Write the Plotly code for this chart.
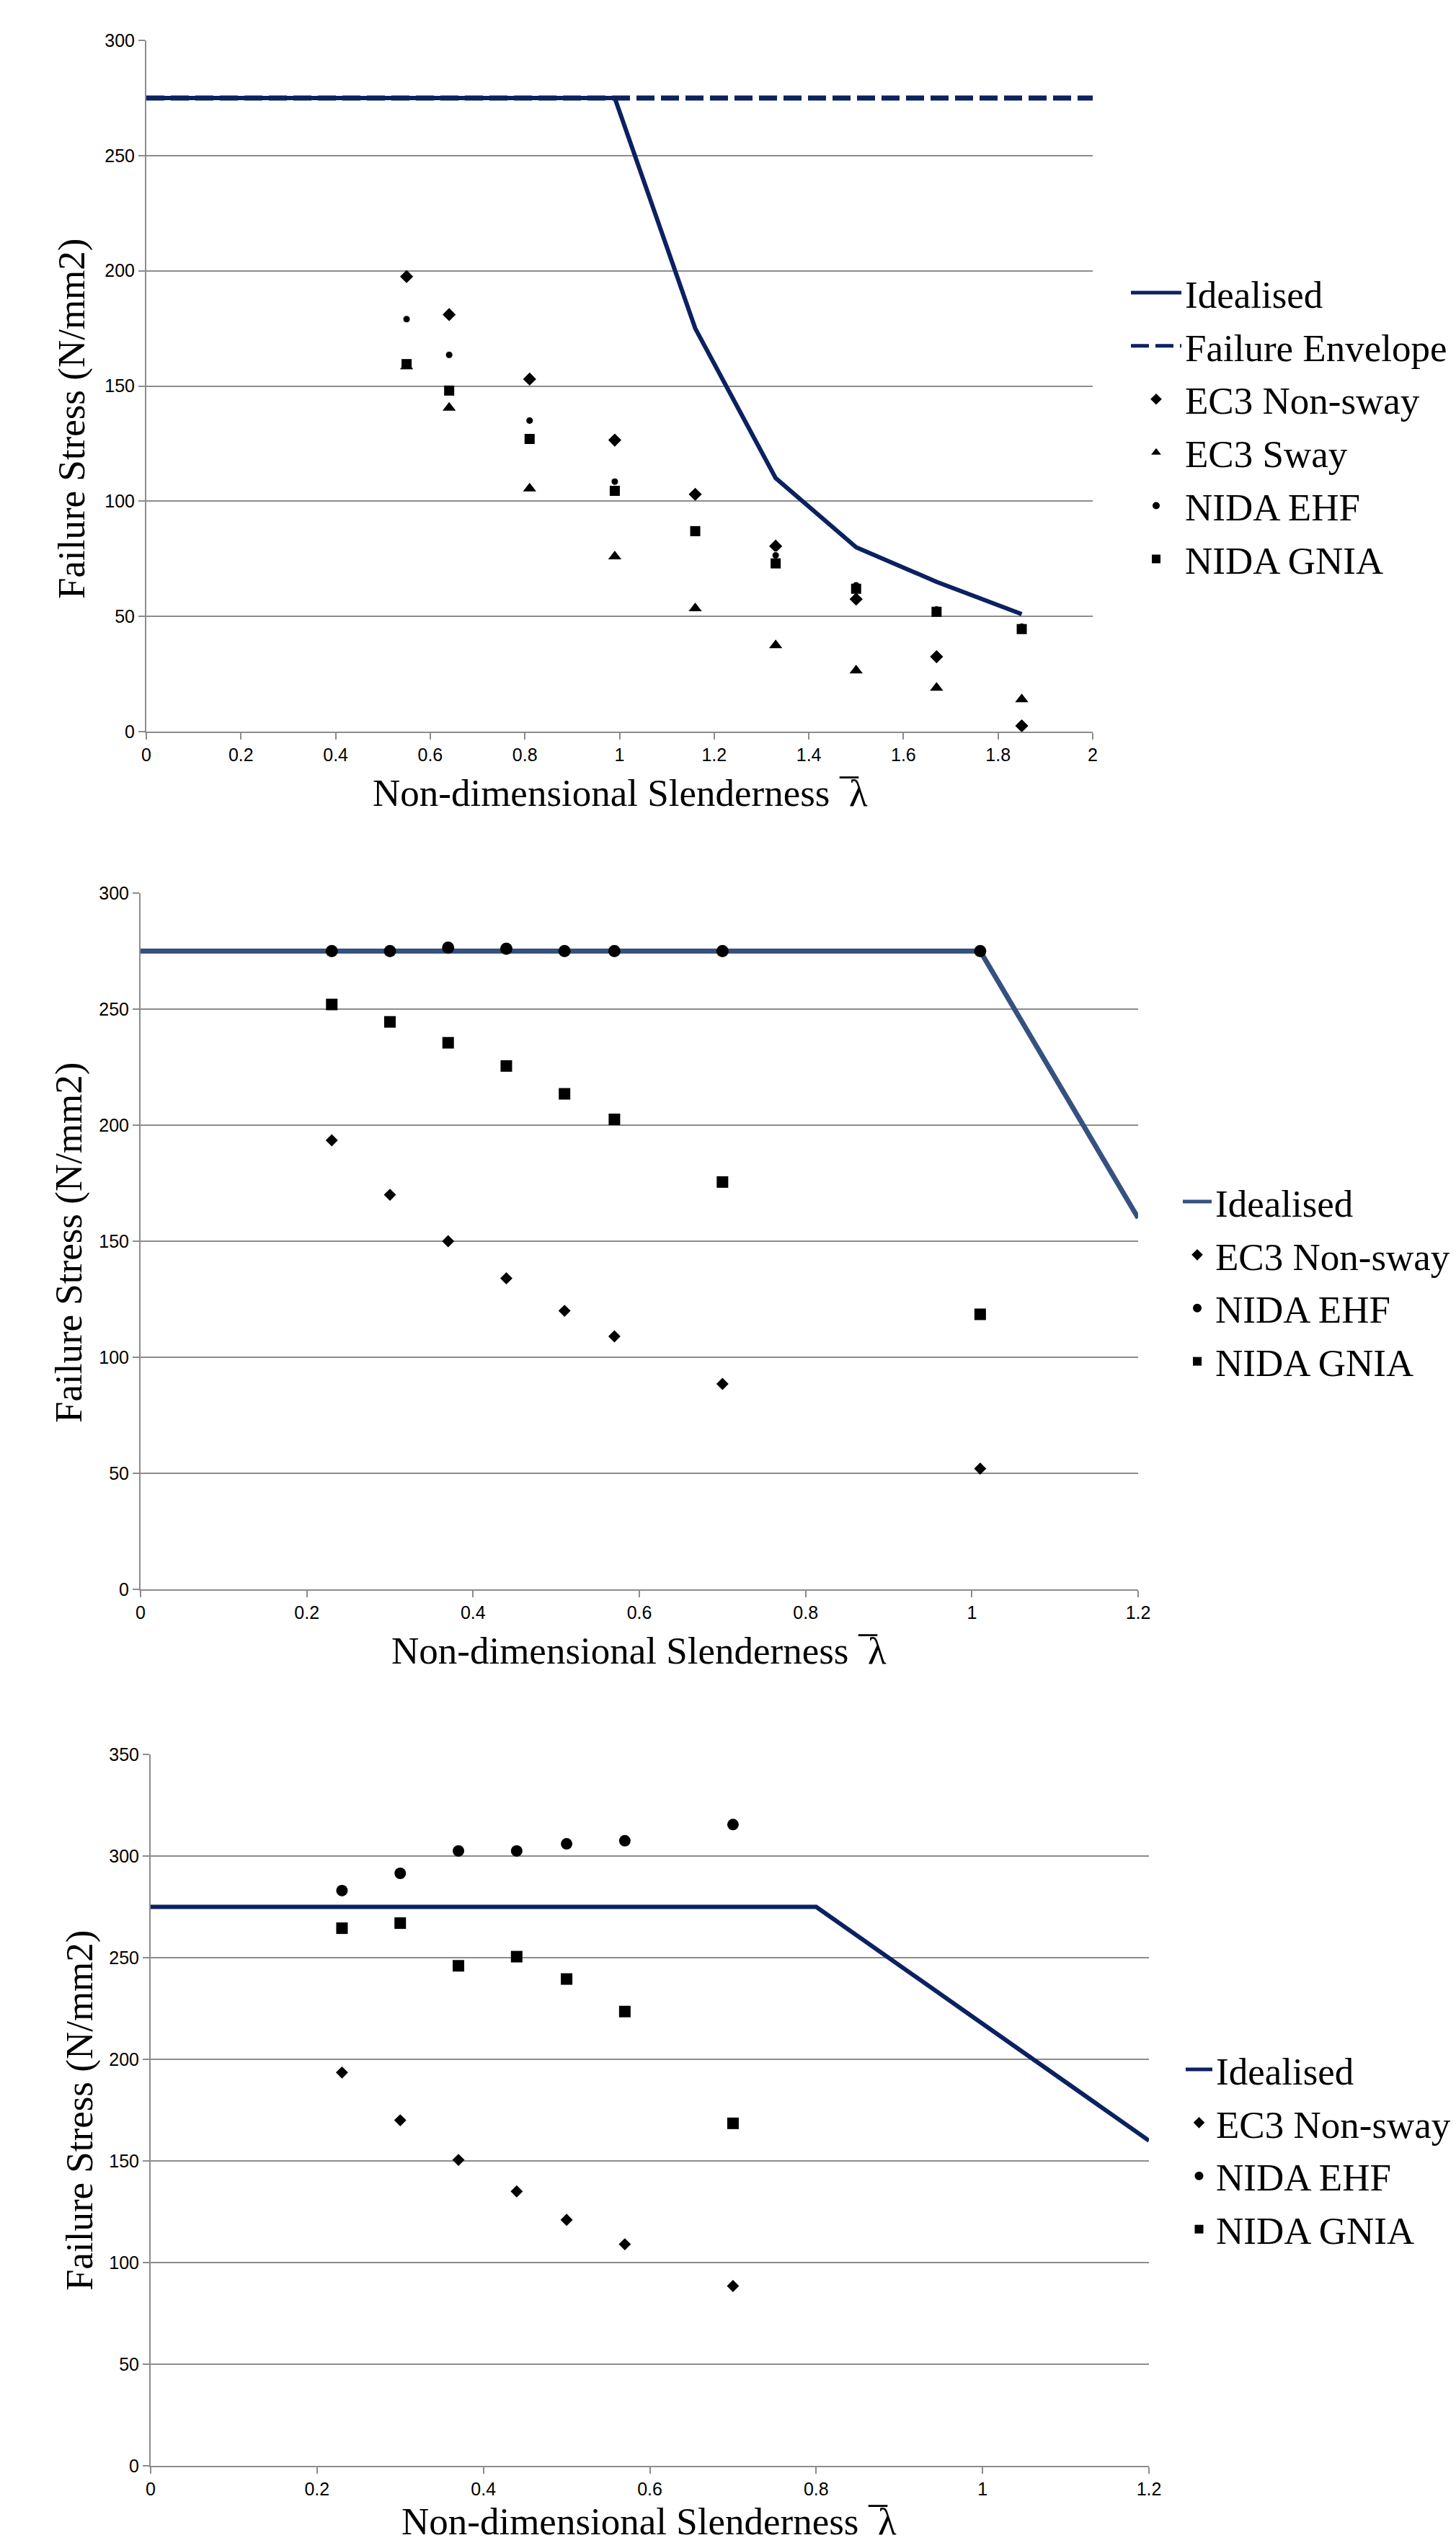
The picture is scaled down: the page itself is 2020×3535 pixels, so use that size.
import plotly.graph_objects as go

# Page is 2020x3535; body has an 8px default margin, so the figure is 16px smaller
PAGE_W, PAGE_H = 2020, 3535
OFF = 8
W, H = PAGE_W - 2 * OFF, PAGE_H - 2 * OFF

# ---------------- Chart 1 data ----------------
c1_x = [0.55, 0.64, 0.81, 0.99, 1.16, 1.33, 1.50, 1.67, 1.85]
c1_ec3_nonsway = [197.5, 181, 153, 126.5, 103, 80.5, 57.5, 32.5, 2.5]
c1_ec3_sway = [158.5, 140.5, 105.5, 76, 53.5, 37.5, 26.5, 19, 14]
c1_nida_ehf = [179, 163.5, 135, 108.5, 87.5, 76.5, 63.5, 53, 45.5]
c1_nida_gnia = [159.5, 148, 127, 104.5, 87, 73, 62, 52, 44.5]
c1_ideal_x = [0, 0.99, 1.16, 1.33, 1.50, 1.67, 1.85]
c1_ideal_y = [275, 275, 175, 110, 80, 65, 51]
c1_env_x = [0, 2]
c1_env_y = [275, 275]

# ---------------- Chart 2 data ----------------
c2_x = [0.23, 0.30, 0.37, 0.44, 0.51, 0.57, 0.70, 1.01]
c2_ec3_nonsway = [193.5, 170, 150, 134, 120, 109, 88.5, 52]
c2_nida_ehf = [275, 275, 276.5, 276, 275, 275, 275, 275]
c2_nida_gnia = [252, 244.5, 235.5, 225.5, 213.5, 202.5, 175.5, 118.5]
c2_ideal_x = [0, 1.01, 1.2]
c2_ideal_y = [275, 275, 160]

# ---------------- Chart 3 data ----------------
c3_x = [0.23, 0.30, 0.37, 0.44, 0.50, 0.57, 0.70]
c3_ec3_nonsway = [193.5, 170, 150.5, 135, 121, 109, 88.5]
c3_nida_ehf = [283, 291.5, 302.5, 302.5, 306, 307.5, 315.5]
c3_nida_gnia = [264.5, 267, 246, 250.5, 239.5, 223.5, 168.5]
c3_ideal_x = [0, 0.8, 1.2]
c3_ideal_y = [275, 275, 160]

x_title = "Non-dimensional Slenderness \u00a0\u0305\u03bb"
y_title = "Failure Stress (N/mm2)"

NAVY = "#0b2160"
STEEL = "#35517f"
GRID = "#8c8c8c"
SERIF = "Liberation Serif, Times New Roman, serif"
SANS = "Liberation Sans, Arial, sans-serif"


def px_x(p):
    return (p - OFF) / W


def px_y(p):
    return 1 - (p - OFF) / H


fig = go.Figure()


def add(x, y, name, leg, grp, xa, ya, **kw):
    fig.add_trace(go.Scatter(x=x, y=y, name=name, legend=leg, legendgroup=grp,
                             xaxis=xa, yaxis=ya, **kw))


# Chart 1
add(c1_ideal_x, c1_ideal_y, "Idealised", "legend", "a1", "x", "y",
    mode="lines", line=dict(color=NAVY, width=6))
add(c1_env_x, c1_env_y, "Failure Envelope", "legend", "b1", "x", "y",
    mode="lines", line=dict(color=NAVY, width=7, dash="25px,9px"))
add(c1_x, c1_ec3_nonsway, "EC3 Non-sway", "legend", "c1", "x", "y",
    mode="markers", marker=dict(symbol="diamond", size=14, color="black"))
add(c1_x, c1_ec3_sway, "EC3 Sway", "legend", "d1", "x", "y",
    mode="markers", marker=dict(symbol="triangle-up", size=16, color="black"))
add(c1_x, c1_nida_ehf, "NIDA EHF", "legend", "e1", "x", "y",
    mode="markers", marker=dict(symbol="circle", size=10, color="black", line=dict(color="white", width=1)))
add(c1_x, c1_nida_gnia, "NIDA GNIA", "legend", "f1", "x", "y",
    mode="markers", marker=dict(symbol="square", size=14, color="black"))

# Chart 2
add(c2_ideal_x, c2_ideal_y, "Idealised", "legend2", "a2", "x2", "y2",
    mode="lines", line=dict(color=STEEL, width=7))
add(c2_x, c2_ec3_nonsway, "EC3 Non-sway", "legend2", "b2", "x2", "y2",
    mode="markers", marker=dict(symbol="diamond", size=13, color="black"))
add(c2_x, c2_nida_ehf, "NIDA EHF", "legend2", "c2", "x2", "y2",
    mode="markers", marker=dict(symbol="circle", size=17, color="black"))
add(c2_x, c2_nida_gnia, "NIDA GNIA", "legend2", "d2", "x2", "y2",
    mode="markers", marker=dict(symbol="square", size=16, color="black"))

# Chart 3
add(c3_ideal_x, c3_ideal_y, "Idealised", "legend3", "a3", "x3", "y3",
    mode="lines", line=dict(color=NAVY, width=6))
add(c3_x, c3_ec3_nonsway, "EC3 Non-sway", "legend3", "b3", "x3", "y3",
    mode="markers", marker=dict(symbol="diamond", size=13, color="black"))
add(c3_x, c3_nida_ehf, "NIDA EHF", "legend3", "c3", "x3", "y3",
    mode="markers", marker=dict(symbol="circle", size=16, color="black"))
add(c3_x, c3_nida_gnia, "NIDA GNIA", "legend3", "d3", "x3", "y3",
    mode="markers", marker=dict(symbol="square", size=16, color="black"))


def xaxis(domain, anchor, rng):
    return dict(domain=domain, anchor=anchor, range=rng, dtick=0.2, tick0=0,
                showgrid=False, zeroline=False, showline=True, linecolor=GRID, linewidth=2,
                ticks="outside", ticklen=9, tickwidth=2, tickcolor=GRID, automargin=False,
                tickfont=dict(family=SANS, size=25, color="black"), fixedrange=True)


def yaxis(domain, anchor, rng):
    return dict(domain=domain, anchor=anchor, range=rng, dtick=50, tick0=0,
                showgrid=True, gridcolor=GRID, gridwidth=2, zeroline=False,
                showline=True, linecolor=GRID, linewidth=2, automargin=False,
                ticks="outside", ticklen=9, tickwidth=2, tickcolor=GRID,
                tickfont=dict(family=SANS, size=25, color="black"), fixedrange=True)


c1_dom_x = [px_x(203), px_x(1516)]
c1_dom_y = [px_y(1015), px_y(56)]
c2_dom_x = [px_x(195), px_x(1579)]
c2_dom_y = [px_y(2205), px_y(1239)]
c3_dom_x = [px_x(209), px_x(1594)]
c3_dom_y = [px_y(3421), px_y(2434)]


def legend(x, ytop, iw):
    return dict(x=px_x(x), y=px_y(ytop), xanchor="left", yanchor="top",
                font=dict(family=SERIF, size=53, color="black"),
                bgcolor="rgba(0,0,0,0)", borderwidth=0, itemwidth=iw,
                itemsizing="constant", tracegroupgap=2)


annotations = []
for cx, cy, txt, ang in [
    (860, 1100, x_title, 0),
    (886, 2290, x_title, 0),
    (900, 3498, x_title, 0),
    (100, 581, y_title, -90),
    (95, 1724, y_title, -90),
    (110, 2928, y_title, -90),
]:
    annotations.append(dict(x=px_x(cx), y=px_y(cy), xref="paper", yref="paper",
                            text=txt, showarrow=False, textangle=ang,
                            xanchor="center", yanchor="middle",
                            font=dict(family=SERIF, size=53, color="black")))

fig.update_layout(
    width=W, height=H,
    margin=dict(l=0, r=0, t=0, b=0, pad=0, autoexpand=False),
    paper_bgcolor="white", plot_bgcolor="white",
    xaxis=xaxis(c1_dom_x, "y", [0, 2]),
    yaxis=yaxis(c1_dom_y, "x", [0, 300]),
    xaxis2=xaxis(c2_dom_x, "y2", [0, 1.2]),
    yaxis2=yaxis(c2_dom_y, "x2", [0, 300]),
    xaxis3=xaxis(c3_dom_x, "y3", [0, 1.2]),
    yaxis3=yaxis(c3_dom_y, "x3", [0, 350]),
    legend=legend(1564, 365, 70),
    legend2=legend(1636, 1626, 40),
    legend3=legend(1640, 2830, 37),
    annotations=annotations,
    showlegend=True,
)

fig.write_html("out.html")
